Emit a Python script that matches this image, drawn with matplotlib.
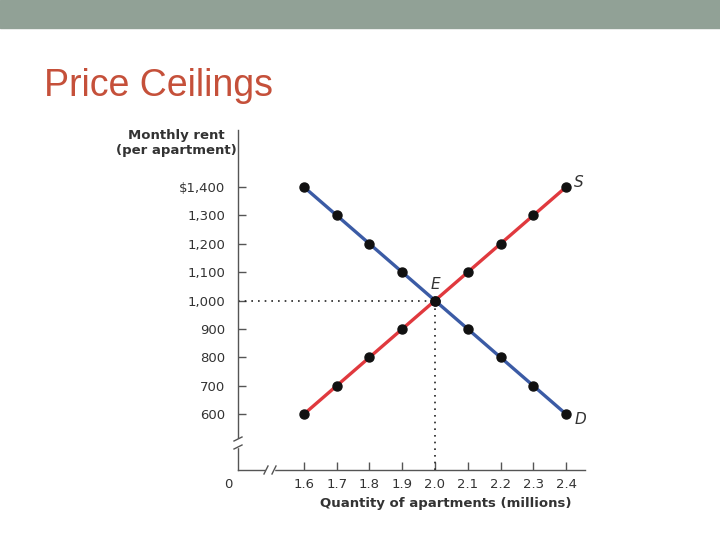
import matplotlib
matplotlib.use("Agg")
import matplotlib.pyplot as plt

quantity = [1.6, 1.7, 1.8, 1.9, 2.0, 2.1, 2.2, 2.3, 2.4]
supply_rent = [600, 700, 800, 900, 1000, 1100, 1200, 1300, 1400]
demand_rent = [1400, 1300, 1200, 1100, 1000, 900, 800, 700, 600]
y_ticks = [600, 700, 800, 900, 1000, 1100, 1200, 1300, 1400]
y_ticklabels = ["600", "700", "800", "900", "1,000", "1,100", "1,200", "1,300", "$1,400"]
x_ticks = quantity
x_ticklabels = ["1.6", "1.7", "1.8", "1.9", "2.0", "2.1", "2.2", "2.3", "2.4"]
eq_q, eq_p = 2.0, 1000

W, H = 720, 540
fig = plt.figure(figsize=(7.2, 5.4), dpi=100)

# top band
fig.patches.append(plt.Rectangle((0, 1 - 28 / H), 1, 28 / H, transform=fig.transFigure,
                                 color="#91A196", zorder=0))
fig.text(44 / W, 1 - 96 / H, "Price Ceilings", fontsize=27, color="#C5503A",
         family="Liberation Sans", va="baseline", ha="left")

ax = fig.add_axes([238 / W, 1 - 470 / H, (585 - 238) / W, (470 - 130) / H])
ax.set_xlim(1.3985, 2.458)
ax.set_ylim(403, 1601)
for s in ["top", "right"]:
    ax.spines[s].set_visible(False)
for s in ["left", "bottom"]:
    ax.spines[s].set_color("#555555")
    ax.spines[s].set_linewidth(1.0)

tc = "#333333"
ax.set_yticks(y_ticks)
ax.set_yticklabels(y_ticklabels)
ax.set_xticks(x_ticks)
ax.set_xticklabels(x_ticklabels)
ax.tick_params(axis="both", direction="in", length=6, width=1.0, color="#555555",
               labelsize=9.5, labelcolor=tc)
ax.tick_params(axis="y", pad=9)
ax.tick_params(axis="x", pad=6)

ax.plot([1.3985, eq_q], [eq_p, eq_p], color="#222222", linestyle=(0, (1, 3)), lw=1.2, zorder=2)
ax.plot([eq_q, eq_q], [403, eq_p], color="#222222", linestyle=(0, (1, 3)), lw=1.2, zorder=2)

ax.plot(quantity, supply_rent, color="#E0393E", lw=2.4, zorder=3)
ax.plot(quantity, demand_rent, color="#3B5BA5", lw=2.4, zorder=3)
ax.plot(quantity, supply_rent, "o", color="#111111", ms=6.5, zorder=4)
ax.plot(quantity, demand_rent, "o", color="#111111", ms=6.5, zorder=4)

ax.text(2.425, 1415, "S", style="italic", fontsize=11, color=tc, ha="left", va="center")
ax.text(2.425, 580, "D", style="italic", fontsize=11, color=tc, ha="left", va="center")
ax.text(eq_q, 1030, "E", style="italic", fontsize=11, color=tc, ha="center", va="bottom")

# axis breaks
tr = fig.transFigure
def fx(px):
    return px / W
def fy(py):
    return 1 - py / H
fig.patches.append(plt.Rectangle((fx(234), fy(447)), 8 / W, 8 / H, transform=tr,
                                 color="white", zorder=5))
for yy in (439, 447):
    fig.lines.append(plt.Line2D([fx(234), fx(242)], [fy(yy + 2), fy(yy - 2)],
                                transform=tr, color="#555555", lw=1.0, zorder=6))
fig.patches.append(plt.Rectangle((fx(266), fy(474)), 8 / W, 8 / H, transform=tr,
                                 color="white", zorder=5))
for xx in (266, 274):
    fig.lines.append(plt.Line2D([fx(xx - 2), fx(xx + 2)], [fy(474), fy(466)],
                                transform=tr, color="#555555", lw=1.0, zorder=6))

fig.text(fx(228), fy(484), "0", fontsize=9.5, color=tc, ha="center", va="center")
fig.text(fx(176), fy(143), "Monthly rent\n(per apartment)", fontsize=9.5, weight="bold",
         color=tc, ha="center", va="center", linespacing=1.25)
fig.text(fx(571), fy(504), "Quantity of apartments (millions)", fontsize=9.5,
         weight="bold", color=tc, ha="right", va="center")

fig.savefig("out.png", dpi=100)
